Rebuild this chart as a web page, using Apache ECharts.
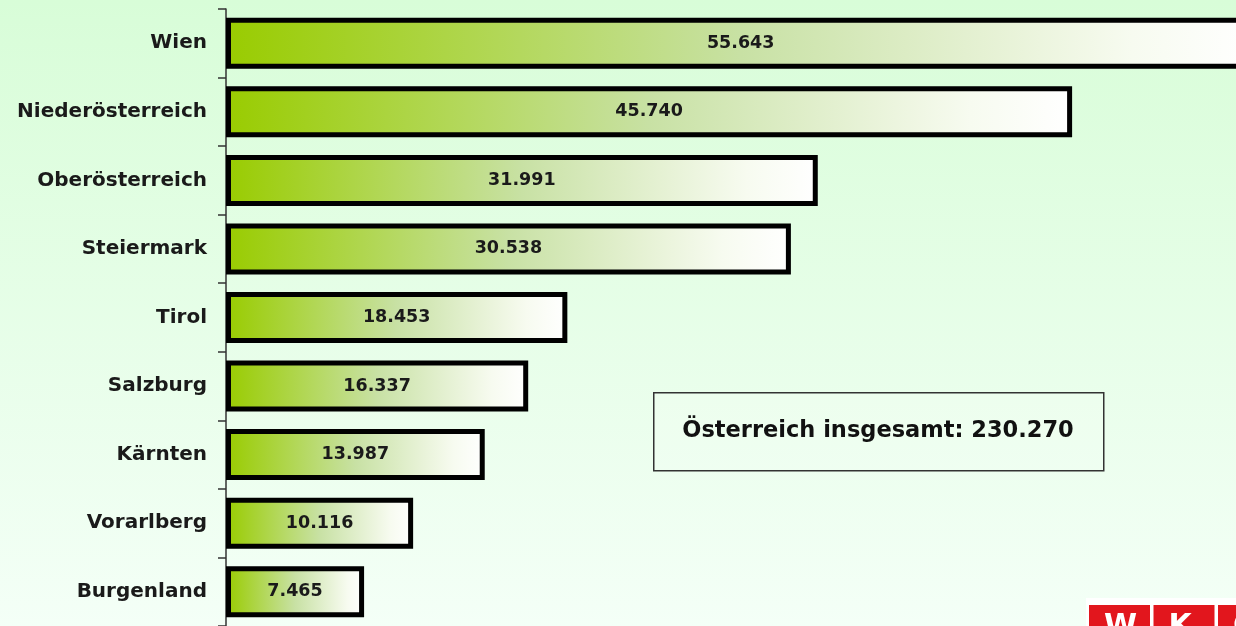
<!DOCTYPE html>
<html>
<head>
    <meta charset="UTF-8">
    <title>Bundesländer</title>
    <script src="https://cdn.jsdelivr.net/npm/echarts@6/dist/echarts.min.js"></script>
    <style>
        html, body { margin: 0; padding: 0; }
        #chart { width: 1236px; height: 626px; }
    </style>
</head>
<body>
<div id="chart"></div>
<script type="text/javascript">
    var laender = ['Wien', 'Niederösterreich', 'Oberösterreich', 'Steiermark', 'Tirol',
        'Salzburg', 'Kärnten', 'Vorarlberg', 'Burgenland'];
    var werte = [55643, 45740, 31991, 30538, 18453, 16337, 13987, 10116, 7465];
    var logoBuchstaben = ['W', 'K', 'O'];

    // deutsche Tausendertrennung mit Punkt
    function fmt(v) {
        return String(v).replace(/\B(?=(\d{3})+(?!\d))/g, '.');
    }
    var summe = werte.reduce(function (a, b) { return a + b; }, 0);

    var chart = echarts.init(document.getElementById('chart'));

    var logo = [{
        type: 'rect', left: 1086, top: 598,
        shape: { width: 150, height: 28 },
        style: { fill: '#ffffff' }
    }];
    logoBuchstaben.forEach(function (b, i) {
        logo.push({
            type: 'rect', left: 1089 + i * 64.5, top: 605,
            shape: { width: 61, height: 21 },
            style: { fill: '#e2161d' }
        });
        logo.push({
            type: 'text', left: 1104 + i * 64.5, top: 612,
            style: { text: b, fill: '#ffffff', font: 'bold 30px "DejaVu Sans"' }
        });
    });

    var option = {
        backgroundColor: new echarts.graphic.LinearGradient(0, 0, 0, 1, [
            { offset: 0, color: '#d8fdd8' },
            { offset: 1, color: '#f4fff7' }
        ]),
        textStyle: { fontFamily: 'DejaVu Sans' },
        grid: { left: 226, top: 9, right: 0, height: 617 },
        xAxis: {
            type: 'value',
            min: 0,
            max: 54600,   // Wien ragt über den rechten Rand hinaus
            show: false
        },
        yAxis: {
            type: 'category',
            inverse: true,
            data: laender,
            axisLine: { lineStyle: { color: '#333333', width: 1.5 } },
            axisTick: { show: true, length: 8, lineStyle: { color: '#333333', width: 1.5 } },
            axisLabel: {
                margin: 19,
                color: '#1a1a1a',
                fontWeight: 'bold',
                fontSize: 20
            }
        },
        series: [{
            type: 'bar',
            data: werte,
            barWidth: 51,
            clip: false,
            itemStyle: {
                borderColor: '#000000',
                borderWidth: 5,
                color: new echarts.graphic.LinearGradient(0, 0, 1, 0, [
                    { offset: 0, color: '#99cc00' },
                    { offset: 0.5, color: '#c8e1a4' },
                    { offset: 0.88, color: '#f7fbf0' },
                    { offset: 1, color: '#ffffff' }
                ])
            },
            label: {
                show: true,
                position: 'inside',
                color: '#1a1a1a',
                fontWeight: 'bold',
                fontSize: 17.5,
                formatter: function (p) { return fmt(p.value); }
            },
            silent: true
        }],
        graphic: [{
            type: 'rect', left: 653, top: 392,
            shape: { width: 450, height: 78 },
            style: { fill: 'rgba(255,255,255,0.15)', stroke: '#333333', lineWidth: 1.5 }
        }, {
            type: 'text', x: 878, y: 431,
            style: {
                text: 'Österreich insgesamt: ' + fmt(summe),
                fill: '#111111',
                align: 'center',
                verticalAlign: 'middle',
                font: 'bold 22.5px "DejaVu Sans"'
            }
        }].concat(logo)
    };

    chart.setOption(option);
</script>
</body>
</html>
